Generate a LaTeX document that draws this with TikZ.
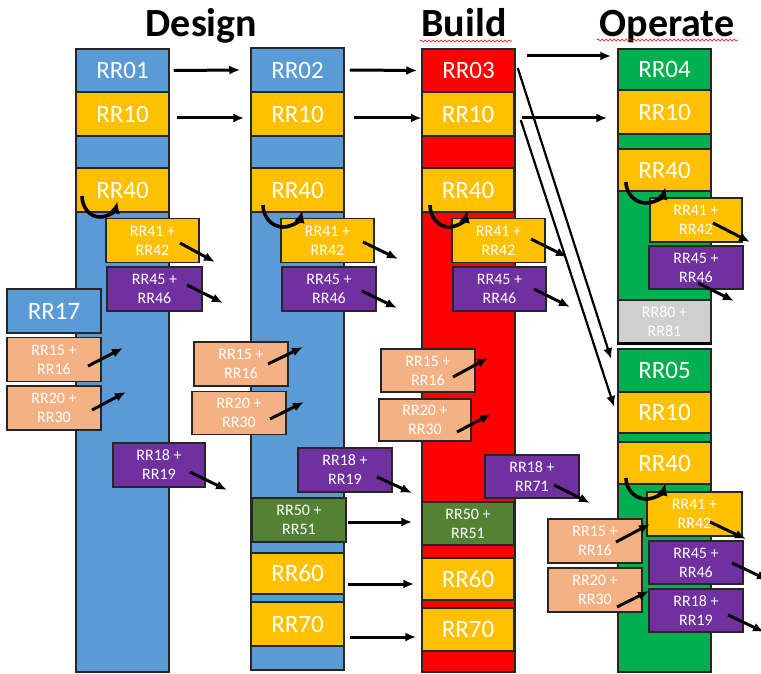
\documentclass[tikz,border=0pt]{standalone}
\usepackage{fontspec}
\setmainfont{Carlito}
\usetikzlibrary{arrows.meta,decorations.pathmorphing}

\definecolor{rrblue}{HTML}{5B9BD5}
\definecolor{rryellow}{HTML}{FFC000}
\definecolor{rrred}{HTML}{FF0000}
\definecolor{rrgreen}{HTML}{00B050}
\definecolor{rrolive}{HTML}{548235}
\definecolor{rrpurple}{HTML}{7030A0}
\definecolor{rrpeach}{HTML}{F4B183}
\definecolor{rrgrey}{HTML}{CFCFCF}

\tikzset{
  bar/.style={draw=black!85, line width=1.5pt},
  blk/.style={draw=black!85, line width=1.5pt, minimum width=93pt, minimum height=44pt,
    inner sep=0pt, text=white, font=\fontsize{25}{30}\selectfont},
  pair/.style={blk, align=center, font=\fontsize{16}{19}\selectfont},
  title/.style={anchor=base, font=\fontsize{40}{48}\selectfont\bfseries},
  arr/.style={->, line width=3pt},
  diag/.style={->, line width=2.2pt},
  turn/.style={-{Latex[length=12pt,width=11pt]}, line width=3.6pt},
  squiggle/.style={red, line width=0.6pt, decorate,
    decoration={snake, amplitude=1pt, segment length=4pt}}
}

\begin{document}
\begin{tikzpicture}[x=1pt, y=-1pt, >={Latex[length=11pt,width=9pt]}]
\useasboundingbox (0,0) rectangle (761,674);

% titles
\node[title] (tdesign) at (201.5,37) {Design};
\node[title] (tbuild) at (464,37) {Build};
\node[title] (toperate) at (667,37) {Operate};
\draw[squiggle] (420,41) -- (512,41);
\draw[squiggle] (597,40) -- (738,40);

% bars
\draw[bar, fill=rrblue] (76,49) rectangle (169,672);
\draw[bar, fill=rrblue] (251,48) rectangle (344,670);
\draw[bar, fill=rrred] (422,49) rectangle (515,672);
\draw[bar, fill=rrgreen] (618,49) rectangle (711,300);
\draw[bar, fill=rrgreen] (618,349) rectangle (711,672);

% Design, first column
\node[blk, fill=rrblue, minimum height=43pt] (da01) at (122.5,70.5) {RR01};
\node[blk, fill=rryellow] (da10) at (122.5,114) {RR10};
\node[blk, fill=rryellow] (da40) at (122.5,190) {RR40};
\node[pair, fill=rryellow] (da41) at (152.5,240.5) {RR41 +\\RR42};
\node[pair, fill=rrpurple, minimum width=95pt] (da45) at (154.5,289) {RR45 +\\RR46};
\node[blk, fill=rrblue, minimum width=94pt] (da17) at (54,311) {RR17};
\node[pair, fill=rrpeach, minimum width=94pt] (da15) at (54,359.5) {RR15 +\\RR16};
\node[pair, fill=rrpeach, minimum width=94pt] (da20) at (54,408) {RR20 +\\RR30};
\node[pair, fill=rrpurple, minimum width=92pt] (da18) at (159,465) {RR18 +\\RR19};

% Design, second column
\node[blk, fill=rrblue] (db02) at (297.5,70) {RR02};
\node[blk, fill=rryellow] (db10) at (297.5,114) {RR10};
\node[blk, fill=rryellow] (db40) at (297.5,190) {RR40};
\node[pair, fill=rryellow] (db41) at (327.5,240.5) {RR41 +\\RR42};
\node[pair, fill=rrpurple, minimum width=94pt] (db45) at (329,289) {RR45 +\\RR46};
\node[pair, fill=rrpeach, minimum width=94pt] (db15) at (241,364) {RR15 +\\RR16};
\node[pair, fill=rrpeach, minimum width=94pt, minimum height=43pt] (db20) at (239,413) {RR20 +\\RR30};
\node[pair, fill=rrpurple, minimum width=94pt] (db18) at (345,470) {RR18 +\\RR19};
\node[pair, fill=rrolive, minimum width=94pt] (db50) at (299,520) {RR50 +\\RR51};
\node[blk, fill=rryellow, minimum height=41pt] (db60) at (297.5,573.5) {RR60};
\node[blk, fill=rryellow] (db70) at (297.5,624) {RR70};

% Build
\node[blk, fill=rrred, minimum height=43pt] (bu03) at (468.5,70.5) {RR03};
\node[blk, fill=rryellow, minimum width=91pt] (bu10) at (468,114) {RR10};
\node[blk, fill=rryellow, minimum width=91pt] (bu40) at (468,190) {RR40};
\node[pair, fill=rryellow] (bu41) at (498.5,240.5) {RR41 +\\RR42};
\node[pair, fill=rrpurple] (bu45) at (499.5,289) {RR45 +\\RR46};
\node[pair, fill=rrpeach, minimum width=94pt, minimum height=43pt] (bu15) at (428,370.5) {RR15 +\\RR16};
\node[pair, fill=rrpeach, minimum width=92pt, minimum height=42pt] (bu20) at (425,420) {RR20 +\\RR30};
\node[pair, fill=rrpurple, minimum width=94pt, minimum height=43pt] (bu18) at (532,476.5) {RR18 +\\RR71};
\node[pair, fill=rrolive, minimum width=92pt, minimum height=43pt] (bu50) at (468,523.5) {RR50 +\\RR51};
\node[blk, fill=rryellow, minimum width=91pt, minimum height=42pt] (bu60) at (468,579) {RR60};
\node[blk, fill=rryellow, minimum width=91pt, minimum height=43pt] (bu70) at (468,629.5) {RR70};

% Operate, upper part
\node[blk, fill=rrgreen, minimum height=41pt] (op04) at (664.5,69.5) {RR04};
\node[blk, fill=rryellow] (op10) at (664.5,112) {RR10};
\node[blk, fill=rryellow, minimum height=42pt] (op40) at (664.5,170) {RR40};
\node[pair, fill=rryellow, minimum width=92pt] (op41) at (696,220) {RR41 +\\RR42};
\node[pair, fill=rrpurple, minimum width=94pt, minimum height=43pt] (op45) at (696,267.5) {RR45 +\\RR46};
\node[pair, fill=rrgrey, minimum height=43pt] (op80) at (664.5,321.5) {RR80 +\\RR81};
\draw[line width=2.6pt] (op80.south west) -- (op80.south east);

% Operate, lower part
\node[blk, fill=rrgreen, minimum height=43pt] (oq05) at (664.5,370.5) {RR05};
\node[blk, fill=rryellow, minimum height=41pt] (oq10) at (664.5,412.5) {RR10};
\node[blk, fill=rryellow, minimum height=42pt] (oq40) at (664.5,463) {RR40};
\node[pair, fill=rryellow, minimum width=95pt] (oq41) at (694.5,514) {RR41 +\\RR42};
\node[pair, fill=rrpurple, minimum width=94pt, minimum height=43pt] (oq45) at (696,562.5) {RR45 +\\RR46};
\node[pair, fill=rrpurple, minimum width=94pt, minimum height=43pt] (oq18) at (696,610.5) {RR18 +\\RR19};
\node[pair, fill=rrpeach, minimum width=94pt] (oq15) at (595,541) {RR15 +\\RR16};
\node[pair, fill=rrpeach, minimum width=94pt] (oq20) at (595,590) {RR20 +\\RR30};

% column to column
\draw[arr] ([shift={(4,0)}]da01.east) -- ([shift={(-10,0)}]db02.west);
\draw[arr] ([shift={(7,4)}]da10.east) -- ([shift={(-6,4)}]db10.west);
\draw[arr] ([shift={(5,0)}]db02.east) -- ([shift={(-4,0)}]bu03.west);
\draw[arr] ([shift={(9,4)}]db10.east) -- ([shift={(0,4)}]bu10.west);
\draw[arr] ([shift={(11,-14.5)}]bu03.east) -- ([shift={(-6,-13.5)}]op04.west);
\draw[arr] ([shift={(7.5,4)}]bu10.east) -- ([shift={(-10,6)}]op10.west);
\draw[diag] ([shift={(2,-2.5)}]bu03.east) -- ([shift={(-6,11)}]oq05.north west);
\draw[diag] ([shift={(6.5,6)}]bu10.east) -- ([shift={(-3,-5.5)}]oq10.west);
\draw[arr] ([shift={(1,2)}]db50.east) -- ([shift={(-9,-1.5)}]bu50.west);
\draw[arr] ([shift={(3,10.5)}]db60.east) -- ([shift={(-7.5,5)}]bu60.west);
\draw[arr] ([shift={(5,13)}]db70.east) -- ([shift={(-5.5,7.5)}]bu70.west);

% small arrows
\draw[arr] (da41) ++(27.5,2.5) -- ++(35,19);
\draw[arr] (da45) ++(32.5,-4) -- ++(36,18);
\draw[arr] (da15) ++(34,6.5) -- ++(35,-18);
\draw[arr] (da20) ++(38,2) -- ++(34,-18);
\draw[arr] (da18) ++(31,7) -- ++(37,18);
\draw[arr] (db41) ++(35.5,1.5) -- ++(35,17);
\draw[arr] (db45) ++(33,2) -- ++(35,17);
\draw[arr] (db15) ++(27,0) -- ++(35,-17);
\draw[arr] (db20) ++(31,6) -- ++(34,-17);
\draw[arr] (db18) ++(32,7) -- ++(35,16);
\draw[arr] (bu41) ++(32.5,-1.5) -- ++(36,18);
\draw[arr] (bu45) ++(34.5,0) -- ++(36,18);
\draw[arr] (bu15) ++(25,6.5) -- ++(35,-19);
\draw[arr] (bu20) ++(32,12) -- ++(34,-18);
\draw[arr] (bu18) ++(22,8.5) -- ++(36,18);
\draw[arr] (op41) ++(17,3) -- ++(37,19);
\draw[arr] (op45) ++(2,15.5) -- ++(36,18);
\draw[arr] (oq41) ++(15.5,8) -- ++(36,17);
\draw[arr] (oq45) ++(36,0.5) -- ++(36,17);
\draw[arr] (oq18) ++(32,4.5) -- ++(36,17);
\draw[arr] (oq15) ++(21,1) -- ++(34,-18);
\draw[arr] (oq20) ++(22,17) -- ++(32,-16);

% turn-back arrows
\draw[turn] (da40) ++(-40.5,6) arc[start angle=180, end angle=15, x radius=18, y radius=21];
\draw[turn] (db40) ++(-34.5,15) arc[start angle=180, end angle=15, x radius=20, y radius=22];
\draw[turn] (bu40) ++(-38,15) arc[start angle=180, end angle=15, x radius=19, y radius=22];
\draw[turn] (op40) ++(-38.5,12) arc[start angle=180, end angle=15, x radius=20, y radius=21];
\draw[turn] (oq40) ++(-38.5,15) arc[start angle=180, end angle=15, x radius=20, y radius=21];
\end{tikzpicture}
\end{document}
